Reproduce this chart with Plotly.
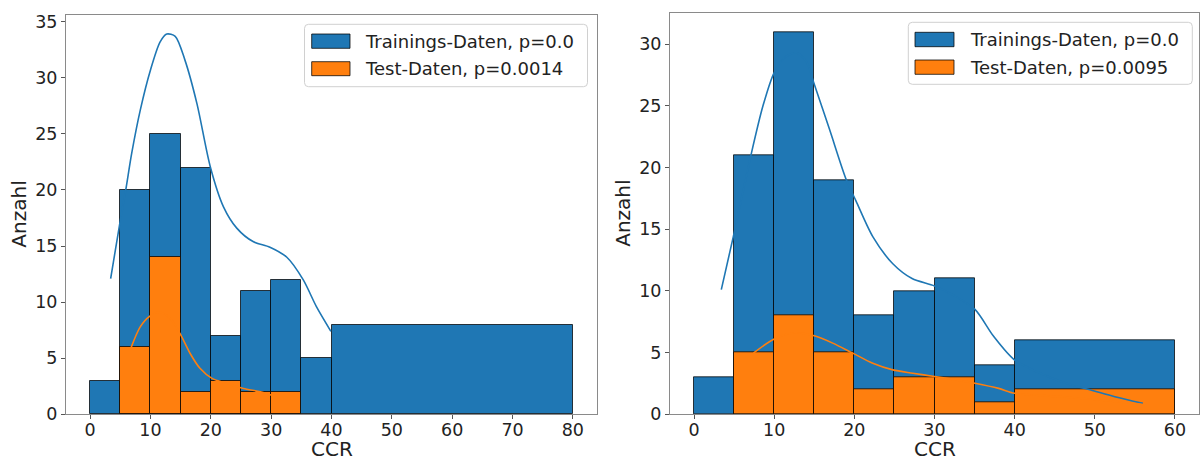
import plotly.graph_objects as go

# ---- data -------------------------------------------------------------
# left panel: histogram of CCR, bins of width 5 up to 40, then one wide bin
edges_left = [0, 5, 10, 15, 20, 25, 30, 35, 40, 80]
train_left = [3, 20, 25, 22, 7, 11, 12, 5, 8]
test_left = [0, 6, 14, 2, 3, 2, 2, 0, 0]

# density curves (scaled to counts) for the left panel
kde_train_left_x = [3.4, 5.0, 5.9, 6.9, 8.3, 10.0, 11.6, 12.7, 14.1, 15.7, 17.7,
                    19.9, 22.1, 24.3, 27.0, 29.8, 32.6, 35.3, 37.5, 39.9]
kde_train_left_y = [12.1, 17.3, 20.0, 23.3, 27.1, 30.7, 33.2, 33.9, 33.7, 31.6, 27.7,
                    22.1, 18.5, 16.6, 15.4, 14.9, 14.0, 12.0, 9.6, 7.4]
kde_test_left_x = [6.8, 8.3, 9.9, 11.5, 13.2, 14.9, 16.6, 18.2, 20.2, 22.6, 25.4, 28.2, 30.1]
kde_test_left_y = [5.97, 7.8, 8.76, 9.1, 8.6, 7.2, 5.4, 4.1, 3.2, 2.76, 2.3, 2.0, 1.7]

# right panel
edges_right = [0, 5, 10, 15, 20, 25, 30, 35, 40, 60]
train_right = [3, 21, 31, 19, 8, 10, 11, 4, 6]
test_right = [0, 5, 8, 5, 2, 3, 3, 1, 2]

kde_train_right_x = [3.4, 4.9, 7.1, 8.6, 10.0, 11.5, 12.8, 14.0, 15.0, 16.9, 19.0, 20.2,
                     22.3, 24.8, 27.2, 30.0, 32.5, 35.05, 37.4, 40.0, 44.0, 47.0,
                     49.5, 52.5, 56.0]
kde_train_right_y = [10.1, 14.4, 21.0, 25.0, 27.7, 29.0, 29.3, 28.6, 26.75, 23.1, 19.0, 17.3,
                     14.4, 12.2, 11.0, 10.4, 9.6, 8.5, 6.3, 4.4, 3.1, 2.4,
                     1.97, 1.43, 0.89]
kde_test_right_x = [7.4, 10.0, 12.5, 15.0, 17.3, 19.8, 22.3, 24.8, 27.3, 30.0, 32.7,
                    35.05, 38.0, 40.0, 45.0, 50.0, 56.0]
kde_test_right_y = [4.96, 6.1, 6.6, 6.36, 5.77, 4.96, 4.14, 3.6, 3.33, 3.06, 2.79,
                    2.52, 2.1, 1.7, 1.45, 1.2, 0.8]

legend_left = ["Trainings-Daten, p=0.0", "Test-Daten, p=0.0014"]
legend_right = ["Trainings-Daten, p=0.0", "Test-Daten, p=0.0095"]
x_title = "CCR"
y_title = "Anzahl"

x_ticks_left = [0, 10, 20, 30, 40, 50, 60, 70, 80]
y_ticks_left = [0, 5, 10, 15, 20, 25, 30, 35]
x_ticks_right = [0, 10, 20, 30, 40, 50, 60]
y_ticks_right = [0, 5, 10, 15, 20, 25, 30]

# ---- style ------------------------------------------------------------
W, H = 1201, 462
BLUE = "#1f77b4"
ORANGE = "#ff7f0e"
EDGE = "rgba(0,0,0,0.75)"
FONT = "DejaVu Sans"
TXT = "#222222"
SPINE = "#8a8a8a"


def px_x(p):
    return p / W


def px_y(p):
    return 1 - p / H


def bars(edges, counts, color, xa, ya):
    lefts = [e for e, c in zip(edges[:-1], counts) if c > 0]
    widths = [b - a for a, b, c in zip(edges[:-1], edges[1:], counts) if c > 0]
    vals = [c for c in counts if c > 0]
    return go.Bar(x=lefts, y=vals, width=widths, offset=0,
                  marker=dict(color=color, line=dict(color=EDGE, width=1)),
                  xaxis=xa, yaxis=ya, showlegend=False, hoverinfo="skip")


def curve(xs, ys, color, xa, ya):
    return go.Scatter(x=xs, y=ys, mode="lines",
                      line=dict(color=color, width=1.6, shape="spline", smoothing=0.8),
                      xaxis=xa, yaxis=ya, showlegend=False, hoverinfo="skip")


fig = go.Figure()
fig.add_trace(bars(edges_left, train_left, BLUE, "x", "y"))
fig.add_trace(bars(edges_left, test_left, ORANGE, "x", "y"))
fig.add_trace(bars(edges_right, train_right, BLUE, "x2", "y2"))
fig.add_trace(bars(edges_right, test_right, ORANGE, "x2", "y2"))
fig.add_trace(curve(kde_train_left_x, kde_train_left_y, BLUE, "x", "y"))
fig.add_trace(curve(kde_test_left_x, kde_test_left_y, ORANGE, "x", "y"))
fig.add_trace(curve(kde_train_right_x, kde_train_right_y, BLUE, "x2", "y2"))
fig.add_trace(curve(kde_test_right_x, kde_test_right_y, ORANGE, "x2", "y2"))

tick_font = dict(family=FONT, size=17.5, color=TXT)
title_font = dict(family=FONT, size=20, color=TXT)


def axis(domain, rng, ticks, anchor, standoff=0):
    return dict(domain=domain, range=rng, tickvals=ticks, ticktext=[str(t) for t in ticks],
                showgrid=False, zeroline=False, showline=True, mirror=True,
                linecolor=SPINE, linewidth=1, ticks="outside", ticklen=4, tickwidth=1,
                tickcolor="#555555", tickfont=tick_font, anchor=anchor,
                ticklabelstandoff=standoff, automargin=False)


fig.update_layout(
    width=W, height=H,
    margin=dict(l=0, r=0, t=0, b=0),
    paper_bgcolor="white", plot_bgcolor="white",
    barmode="overlay", bargap=0,
    showlegend=False,
    xaxis=axis([px_x(66), px_x(597)], [-4, 84], x_ticks_left, "y", -4),
    yaxis=axis([px_y(414.3), px_y(15)], [0, 35.6], y_ticks_left, "x"),
    xaxis2=axis([px_x(670), px_x(1199)], [-3, 63], x_ticks_right, "y2", -4),
    yaxis2=axis([px_y(414.3), px_y(13.3)], [0, 32.5], y_ticks_right, "x2"),
)


def rounded_box(x0, y0, x1, y1, r=4):
    # pixel box -> paper path with rounded corners
    rx, ry = r / W, r / H
    a, b, c, d = px_x(x0), px_y(y1), px_x(x1), px_y(y0)  # left, bottom, right, top
    return (f"M{a+rx},{d} L{c-rx},{d} Q{c},{d} {c},{d-ry} L{c},{b+ry} Q{c},{b} {c-rx},{b} "
            f"L{a+rx},{b} Q{a},{b} {a},{b+ry} L{a},{d-ry} Q{a},{d} {a+rx},{d} Z")


def legend(box, patch_x, rows, text_x, labels):
    shapes = [dict(type="path", xref="paper", yref="paper", path=rounded_box(*box),
                   fillcolor="rgba(255,255,255,0.8)", line=dict(color="#d0d0d0", width=1),
                   layer="above")]
    annos = []
    for (py0, py1), color, label in zip(rows, [BLUE, ORANGE], labels):
        shapes.append(dict(type="rect", xref="paper", yref="paper",
                           x0=px_x(patch_x[0]), x1=px_x(patch_x[1]),
                           y0=px_y(py1), y1=px_y(py0),
                           fillcolor=color, line=dict(color=EDGE, width=1), layer="above"))
        annos.append(dict(xref="paper", yref="paper", x=px_x(text_x), y=px_y((py0 + py1) / 2),
                          xanchor="left", yanchor="middle", showarrow=False, text=label,
                          font=dict(family=FONT, size=18, color=TXT)))
    return shapes, annos


def axis_titles(x_center, y_center, ylab_x):
    return [
        dict(xref="paper", yref="paper", x=px_x(x_center), y=0,
             xanchor="center", yanchor="bottom", borderpad=0, showarrow=False, text=x_title,
             font=title_font),
        dict(xref="paper", yref="paper", x=px_x(ylab_x), y=px_y(y_center),
             xanchor="center", yanchor="middle", showarrow=False, text=y_title,
             textangle=-90, font=title_font),
    ]


s1, a1 = legend((304.5, 24.3, 587.5, 86.7), (311.7, 350), [(34, 48.3), (61.7, 75.7)], 363, legend_left)
s2, a2 = legend((908.3, 22.3, 1192.3, 84.3), (915, 954), [(32.3, 46.7), (60, 74.3)], 967.5, legend_right)
t1 = axis_titles((66 + 597) / 2, (15 + 414.3) / 2, 19)
t2 = axis_titles((670 + 1199) / 2, (13.3 + 414.3) / 2, 623)
fig.update_layout(shapes=s1 + s2, annotations=a1 + a2 + t1 + t2)

fig.write_html("out.html")
